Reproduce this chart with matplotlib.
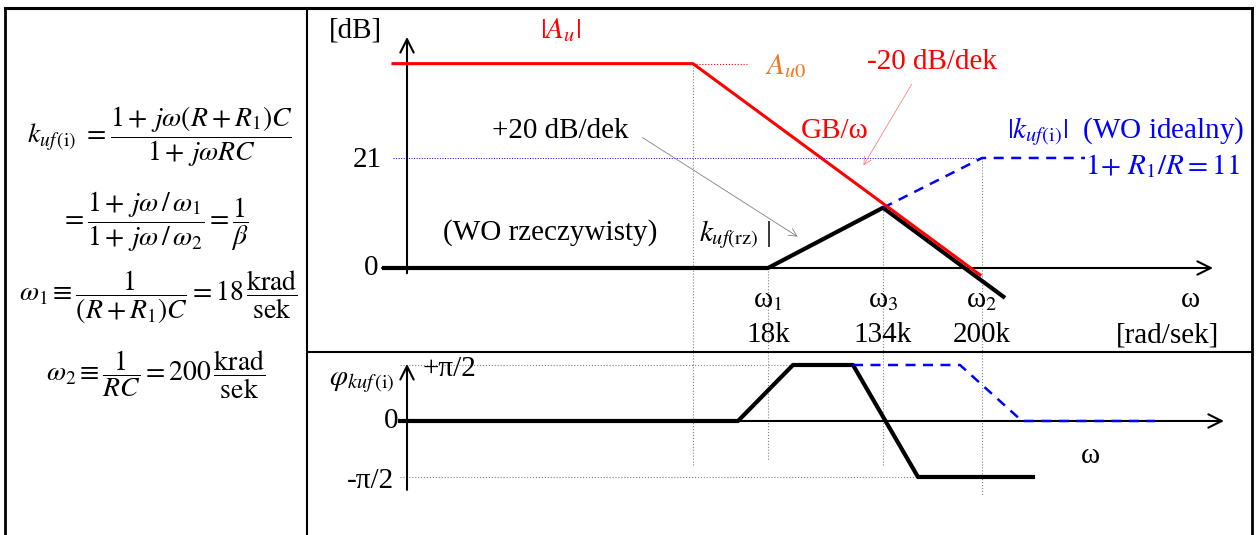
import matplotlib.pyplot as plt
from matplotlib.lines import Line2D

plt.rcParams['font.family'] = ['Liberation Serif', 'DejaVu Serif']
plt.rcParams['mathtext.fontset'] = 'stix'

# schematic frequency axis: one unit ~ one axis division (not to scale, as in the sketch)
# magnitudes in dB, phase in units of pi/2
au_x = [-0.14, 2.86, 5.73]
au_db = [39, 39, -1.3]
krz_x = [-0.25, 3.61, 4.76, 5.98]
krz_db = [0, 0, 11.5, -5.7]
kid_x = [4.76, 5.75, 6.78]
kid_db = [11.5, 21, 21]
phi_rz_x = [-0.07, 3.31, 3.86, 4.46, 5.11, 6.26]
phi_rz = [0, 0, 1, 1, -1, -1]
phi_id_x = [4.46, 5.53, 6.15, 7.48]
phi_id = [1, 1, 0, 0]

guide_x = [2.86, 3.61, 4.76, 5.75]          # A_u0 corner, w1, w3, w2
guide_top = [39, 0, 11.5, 21]
guide_low = [-0.82, -0.70, -0.79, -1.32]
tick_x = [3.61, 4.76, 5.75]
tick_names = ['ω$_1$', 'ω$_3$', 'ω$_2$']
tick_vals = ['18k', '134k', '200k']

W, H = 1257, 535
fig = plt.figure(figsize=(W / 100, H / 100), dpi=100)


def fx(px):
    return px / W


def fy(py):
    return 1 - py / H


# table frame
for xs, ys, lw in [([5, 5], [8, 535], 2), ([5, 1252], [8, 8], 2.2), ([1252, 1252], [8, 535], 2),
                   ([307, 307], [8, 535], 1.5), ([307, 1252], [352, 352], 1.5)]:
    fig.add_artist(Line2D([fx(x) for x in xs], [fy(y) for y in ys], color='k', lw=lw))

# formulas in the left column
fs = 20
fig.text(fx(160), fy(137), r'$k_{uf\,(\mathrm{i})}\ = \dfrac{1 +\, j\omega(R + R_1)C}{1 +\, j\omega RC}$',
         ha='center', va='center', fontsize=fs)
fig.text(fx(155), fy(222), r'$= \dfrac{1 +\, j\omega\,/\,\omega_1}{1 +\, j\omega\,/\,\omega_2} = \dfrac{1}{\beta}$',
         ha='center', va='center', fontsize=fs)
fig.text(fx(158), fy(297), r'$\omega_1 \equiv \dfrac{1}{(R + R_1)C} = 18\,\dfrac{\mathrm{krad}}{\mathrm{sek}}$',
         ha='center', va='center', fontsize=fs)
fig.text(fx(156), fy(375), r'$\omega_2 \equiv \dfrac{1}{RC} = 200\,\dfrac{\mathrm{krad}}{\mathrm{sek}}$',
         ha='center', va='center', fontsize=fs)

# ---- magnitude panel
ax = fig.add_axes([fx(307), fy(352), fx(1252 - 307), (352 - 8) / H])
ax.set_xlim(-1.0, 8.45)
ax.set_ylim(-16.03, 49.62)
ax.axis('off')

arr = dict(arrowstyle='->', lw=1.5, color='k', mutation_scale=24, shrinkA=0, shrinkB=0)
ax.annotate('', xy=(8.06, 0), xytext=(-0.25, 0), arrowprops=arr)
ax.annotate('', xy=(0, 44.1), xytext=(0, -1), arrowprops=arr)

for gx, gt in zip(guide_x, guide_top):
    ax.plot([gx, gx], [gt, -16.03], color='gray', ls=':', lw=0.8)
ax.plot([-0.14, 5.75], [21, 21], color='blue', ls=':', lw=0.7)
ax.plot([2.86, 3.4], [39, 39], color='red', ls=':', lw=0.8)

ax.plot(krz_x, krz_db, color='k', lw=3, solid_capstyle='butt', zorder=3)
ax.plot(au_x, au_db, color='red', lw=2.2, zorder=4)
ax.plot(kid_x, kid_db, color='blue', lw=1.8, ls=(0, (4, 3)), zorder=3)

ax.annotate('', xy=(3.93, 5.7), xytext=(2.33, 25.2),
            arrowprops=dict(arrowstyle='->', lw=0.6, color='gray', mutation_scale=14))
ax.annotate('', xy=(4.55, 19.1), xytext=(5.06, 35.5),
            arrowprops=dict(arrowstyle='->', lw=0.6, color='#ff8080', mutation_scale=14))

t = 21
ax.text(-0.52, 45.4, '[dB]', ha='center', va='center', fontsize=t)
ax.text(1.53, 45.4, r'$|A_u|$', ha='center', va='center', fontsize=t, color='red')
ax.text(3.58, 38.6, r'$A_{u0}$', ha='left', va='center', fontsize=t, color='#f07820')
ax.text(5.25, 39.3, '-20 dB/dek', ha='center', va='center', fontsize=t, color='red')
ax.text(4.28, 26.1, 'GB/ω', ha='center', va='center', fontsize=t, color='red')
ax.text(1.53, 26.1, '+20 dB/dek', ha='center', va='center', fontsize=t)
ax.text(1.43, 6.7, '(WO rzeczywisty)', ha='center', va='center', fontsize=t)
ax.text(3.28, 6.3, r'$k_{uf(\mathrm{rz})}$ |', ha='center', va='center', fontsize=t)
ax.text(7.19, 26.1, r'$|k_{uf(\mathrm{i})}|$  (WO idealny)', ha='center', va='center', fontsize=t, color='blue')
ax.text(7.55, 19.4, r'$1\!+\,R_1/R = 11$', ha='center', va='center', fontsize=t, color='blue')
ax.text(-0.29, 0, '0', ha='right', va='center', fontsize=t)
ax.text(-0.25, 20.6, '21', ha='right', va='center', fontsize=t)
for x, n, v in zip(tick_x, tick_names, tick_vals):
    ax.text(x, -6.1, n, ha='center', va='center', fontsize=t)
    ax.text(x, -12.8, v, ha='center', va='center', fontsize=t)
ax.text(7.83, -6.1, 'ω', ha='center', va='center', fontsize=t)
ax.text(7.61, -12.8, '[rad/sek]', ha='center', va='center', fontsize=t)

# ---- phase panel
bx = fig.add_axes([fx(307), 0, fx(1252 - 307), (535 - 352) / H])
bx.set_xlim(-1.0, 8.45)
bx.set_ylim(-2.036, 1.232)
bx.axis('off')

bx.annotate('', xy=(8.17, 0), xytext=(-0.07, 0), arrowprops=arr)
bx.annotate('', xy=(0, 1.02), xytext=(0, -1.23), arrowprops=arr)
for gx, gl in zip(guide_x, guide_low):
    bx.plot([gx, gx], [1.232, gl], color='gray', ls=':', lw=0.8)
bx.plot([-0.07, 4.46], [1, 1], color='gray', ls=':', lw=0.8)
bx.plot([-0.07, 5.11], [-1, -1], color='gray', ls=':', lw=0.8)

bx.plot(phi_rz_x, phi_rz, color='k', lw=3, zorder=3)
bx.plot(phi_id_x, phi_id, color='blue', lw=1.8, ls=(0, (4, 3)), zorder=3)

bx.text(-0.45, 0.70, r'$\varphi_{kuf\,(\mathrm{i})}$', ha='center', va='center', fontsize=t)
bx.text(0.16, 0.93, '+π/2', ha='left', va='center', fontsize=t)
bx.text(-0.09, 0, '0', ha='right', va='center', fontsize=t)
bx.text(-0.13, -1.07, '-π/2', ha='right', va='center', fontsize=t)
bx.text(6.83, -0.625, 'ω', ha='center', va='center', fontsize=t)

fig.savefig('out.png', dpi=100)
